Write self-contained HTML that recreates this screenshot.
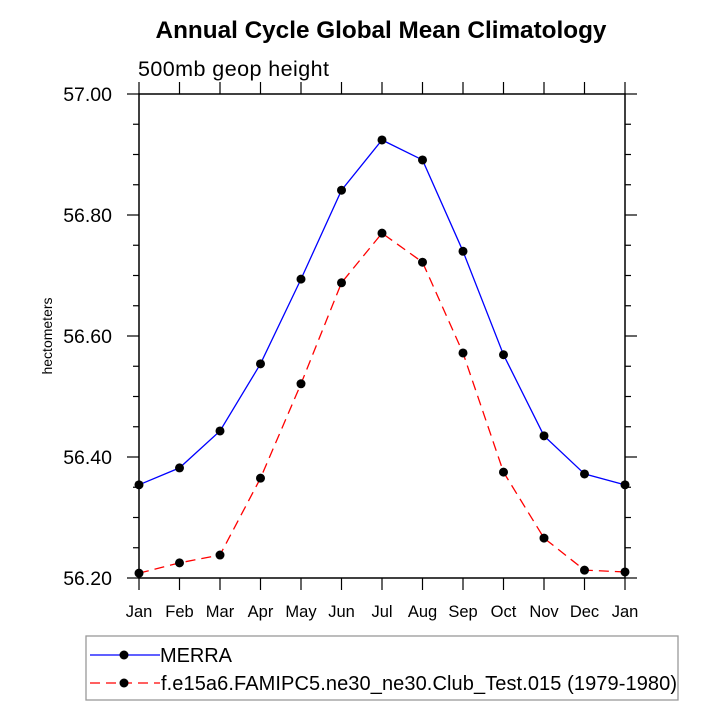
<!DOCTYPE html>
<html><head><meta charset="utf-8"><style>body{margin:0;background:#fff}svg{display:block;font-family:"Liberation Sans",sans-serif}</style></head>
<body>
<svg id="c" width="720" height="720">
<text x="381" y="38" text-anchor="middle" font-size="24.3" font-weight="bold">Annual Cycle Global Mean Climatology</text>
<text x="138" y="76" font-size="21.5" textLength="191">500mb geop height</text>
<text transform="translate(52,336) rotate(-90)" text-anchor="middle" font-size="14">hectometers</text>
<g id="axes"></g><g id="series"></g>
<rect x="86" y="636" width="592" height="64" fill="none" stroke="#999" stroke-width="1.3"/>
<g>
<line x1="90" y1="655" x2="160" y2="655" stroke="#00f" stroke-width="1.3"/><circle cx="124" cy="655" r="4.5"/>
<text x="160" y="662" font-size="20" textLength="72">MERRA</text></g>
<g>
<line x1="90" y1="683" x2="160" y2="683" stroke="#f00" stroke-width="1.3" stroke-dasharray="10,6"/><circle cx="124" cy="683" r="4.5"/>
<text x="161" y="690" font-size="20" textLength="516">f.e15a6.FAMIPC5.ne30_ne30.Club_Test.015 (1979-1980)</text></g>
</svg>
<script>
const months=["Jan","Feb","Mar","Apr","May","Jun","Jul","Aug","Sep","Oct","Nov","Dec","Jan"];
const merra=[56.354,56.382,56.443,56.554,56.694,56.841,56.924,56.891,56.740,56.569,56.435,56.372,56.354];
const model=[56.208,56.225,56.238,56.365,56.521,56.688,56.770,56.722,56.572,56.375,56.266,56.213,56.210];
const yTicks=[56.20,56.40,56.60,56.80,57.00];
const L=139,R=625,T=94,B=578,ymin=56.2,ymax=57.0;
const xs=i=>L+(R-L)*i/(months.length-1);
const ys=v=>B-(v-ymin)/(ymax-ymin)*(B-T);
const NS="http://www.w3.org/2000/svg";
const ax=document.getElementById('axes'),sr=document.getElementById('series');
function mk(p,t,a){const e=document.createElementNS(NS,t);for(const k in a)e.setAttribute(k,a[k]);p.appendChild(e);return e;}
const fr=mk(ax,'rect',{x:L,y:T,width:R-L,height:B-T,fill:'none',stroke:'#000','stroke-width':1.5});


months.forEach((m,i)=>{const x=xs(i);
mk(ax,'line',{x1:x,y1:B,x2:x,y2:B+12,stroke:'#000','stroke-width':1.2});
mk(ax,'line',{x1:x,y1:T,x2:x,y2:T-12,stroke:'#000','stroke-width':1.2});
const t=mk(ax,'text',{x:x,y:B+39,'text-anchor':'middle','font-size':16.5});t.textContent=m;

});
for(let v=ymin;v<=ymax+1e-9;v+=0.05){const y=ys(v);const maj=Math.abs(Math.round(v*100)%20)<1;const l=maj?12:6;
mk(ax,'line',{x1:L,y1:y,x2:L-l,y2:y,stroke:'#000','stroke-width':1.2});
mk(ax,'line',{x1:R,y1:y,x2:R+l,y2:y,stroke:'#000','stroke-width':1.2});}
yTicks.forEach(v=>{const t=mk(ax,'text',{x:L-27,y:ys(v)+7,'text-anchor':'end','font-size':19.5});t.textContent=v.toFixed(2);

});
function draw(d,col,dash,name){const g=mk(sr,'g',{});


mk(g,'polyline',{points:d.map((v,i)=>xs(i)+','+ys(v)).join(' '),fill:'none',stroke:col,'stroke-width':1.3,'stroke-dasharray':dash});
d.forEach((v,i)=>{const c=mk(g,'circle',{cx:xs(i),cy:ys(v),r:4.5});

});}
draw(merra,'#00f','none','series-merra');
draw(model,'#f00','10,6','series-model');
</script>
</body></html>
